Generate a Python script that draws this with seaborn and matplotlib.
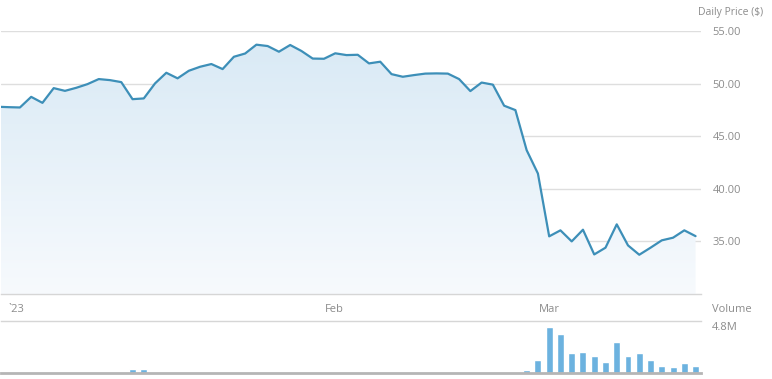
import numpy as np
import pandas as pd
import seaborn as sns
import matplotlib.pyplot as plt
from matplotlib.colors import LinearSegmentedColormap

# daily closing price ($), one value per trading day
price = [47.80, 47.76, 47.73, 48.74, 48.17, 49.57, 49.31, 49.60, 49.95, 50.43,
         50.33, 50.14, 48.52, 48.59, 50.02, 51.03, 50.50, 51.22, 51.60, 51.86,
         51.38, 52.55, 52.86, 53.70, 53.57, 53.03, 53.67, 53.10, 52.38, 52.36,
         52.88, 52.71, 52.74, 51.92, 52.08, 50.90, 50.65, 50.81, 50.95, 50.97,
         50.95, 50.43, 49.29, 50.10, 49.90, 47.90, 47.48, 43.67, 41.45, 35.48,
         36.05, 35.00, 36.11, 33.76, 34.40, 36.62, 34.62, 33.73, 34.40, 35.10,
         35.35, 36.05, 35.50]

# daily volume (millions)
volume = [0.02] * 12 + [0.36, 0.36] + [0.02] * 33 + [
    0.30, 1.22, 4.28, 3.58, 1.84, 1.93, 1.62, 1.06, 2.85, 1.62,
    1.84, 1.22, 0.67, 0.55, 0.97, 0.67]

month_labels = ["`23", "Feb", "Mar"]
month_pos = [0.95, 29.1, 48.1]
price_ticks = [35, 40, 45, 50, 55]

df = pd.DataFrame({"day": np.arange(len(price)), "price": price, "volume": volume})

sns.set_style("white")
plt.rcParams["font.family"] = ["Open Sans", "DejaVu Sans"]
grey = "#8c8c8c"
line_c = "#3d8fb8"

fig = plt.figure(figsize=(7.72, 3.79), dpi=100)
ax = fig.add_axes([0.0013, 0.2243, 0.9067, 0.6939])
axv = fig.add_axes([0.0013, 0.015, 0.9067, 0.138])

xlim = (0.32, 62.48)

# gradient area under the price line
poly = ax.fill_between(df["day"], df["price"], 30, color="none", lw=0)
cmap = LinearSegmentedColormap.from_list("fade", ["#f7fafd", "#d8e9f5"])
grad = np.linspace(0, 1, 256).reshape(-1, 1)
im = ax.imshow(grad, cmap=cmap, origin="lower", aspect="auto",
               extent=[0, 62, 30, 55], zorder=1)
im.set_clip_path(poly.get_paths()[0], transform=ax.transData)

sns.lineplot(data=df, x="day", y="price", ax=ax, color=line_c, lw=1.6, zorder=3)

ax.set_xlim(*xlim)
ax.set_ylim(30, 55)
ax.set_yticks(price_ticks)
ax.set_yticklabels([f"{t:.2f}" for t in price_ticks])
ax.yaxis.tick_right()
ax.tick_params(axis="y", length=0, pad=8.5, labelsize=8, labelcolor=grey)
ax.set_xticks([])
ax.set_xlabel("")
ax.set_ylabel("")
ax.grid(axis="y", color="#dedede", lw=1)
ax.set_axisbelow(True)
for s in ["top", "left", "right"]:
    ax.spines[s].set_visible(False)
ax.spines["bottom"].set_color("#d6d6d6")
ax.spines["bottom"].set_linewidth(1)

for lbl, pos in zip(month_labels, month_pos):
    ax.annotate(lbl, xy=(pos, 0), xycoords=("data", "axes fraction"),
                xytext=(0, -11), textcoords="offset points",
                ha="left", va="center", fontsize=8, color=grey)

# volume bars
sns.barplot(data=df, x="day", y="volume", ax=axv, native_scale=True,
            color="#6cb2df", width=0.62, errorbar=None, saturation=1)
axv.set_xlim(*xlim)
axv.set_ylim(0, 4.8)
axv.set_xticks([])
axv.set_yticks([])
axv.set_xlabel("")
axv.set_ylabel("")
for s in ["left", "right"]:
    axv.spines[s].set_visible(False)
axv.spines["top"].set_color("#d6d6d6")
axv.spines["top"].set_linewidth(1)
axv.spines["bottom"].set_color("#b5b5b5")
axv.spines["bottom"].set_linewidth(2)

fig.text(698 / 772, 1 - 13 / 379, "Daily Price ($)", ha="left", va="center",
         fontsize=7.5, color=grey)
fig.text(712 / 772, 1 - 309 / 379, "Volume", ha="left", va="center",
         fontsize=8, color=grey)
fig.text(712 / 772, 1 - 328 / 379, "4.8M", ha="left", va="center",
         fontsize=8, color=grey)

fig.savefig("out.png", dpi=100, facecolor="white")
